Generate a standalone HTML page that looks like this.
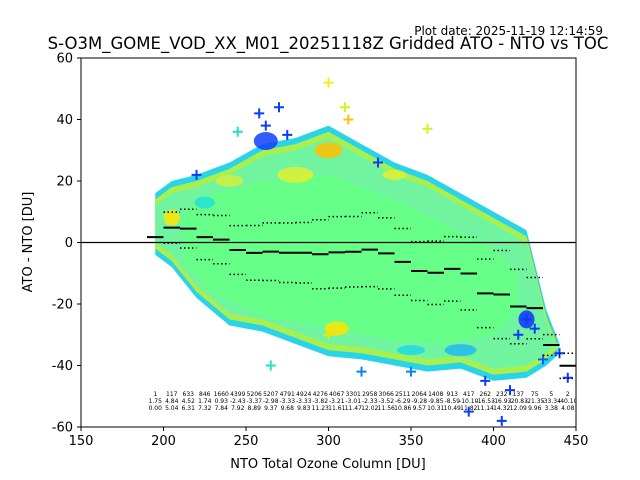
<!DOCTYPE html>
<html><head><meta charset="utf-8"><style>
body{margin:0;background:#fff;}
svg{display:block;font-family:"DejaVu Sans","Liberation Sans",sans-serif;}
</style></head><body>
<svg id="chart" width="640" height="480" viewBox="0 0 640 480" xmlns="http://www.w3.org/2000/svg">
<rect width="640" height="480" fill="#fff"/>
<text x="603" y="35" font-size="12" text-anchor="end">Plot date: 2025-11-19 12:14:59</text>
<text x="328" y="49" font-size="16.5" text-anchor="middle">S-O3M_GOME_VOD_XX_M01_20251118Z Gridded ATO - NTO vs TOC</text>
<defs><clipPath id="pc"><rect x="81" y="58" width="495" height="369"/></clipPath></defs>
<g id="plot" clip-path="url(#pc)"></g>
<g id="axes"></g>
<text x="328" y="468" font-size="13" text-anchor="middle">NTO Total Ozone Column [DU]</text>
<text transform="translate(32,242) rotate(-90)" font-size="13" text-anchor="middle">ATO - NTO [DU]</text>
</svg>
<script>
const binStarts=[190,200,210,220,230,240,250,260,270,280,290,300,310,320,330,340,350,360,370,380,390,400,410,420,430,440];
const counts=["1","117","633","846","1660","4399","5206","5207","4791","4924","4276","4067","3301","2958","3066","2511","2064","1408","913","417","262","232","137","75","5","2"];
const medians=[1.75,4.84,4.52,1.74,0.93,-2.43,-3.37,-2.98,-3.33,-3.33,-3.82,-3.21,-3.01,-2.33,-3.52,-6.29,-9.28,-9.85,-8.59,-10.10,-16.53,-16.93,-20.83,-21.35,-33.34,-40.10];
const stds=[0.00,5.04,6.31,7.32,7.84,7.92,8.89,9.37,9.68,9.83,11.23,11.61,11.47,12.02,11.56,10.86,9.57,10.31,10.49,11.82,11.14,14.32,12.09,9.96,3.38,4.08];
const xTicks=[150,200,250,300,350,400,450];
const yTicks=[-60,-40,-20,0,20,40,60];
const envX=[195,205,220,240,260,280,300,320,340,360,380,400,420,432,440];
const envUp=[16,20,22,26,32,34,38,32,26,22,16,10,4,-22,-33];
const envLo=[-4,-8,-18,-27,-29,-33,-37,-38,-40,-42,-41,-45,-44,-40,-36];
const coreX=[212,230,260,300,340,370,400,415];
const coreUp=[10,16,20,22,14,6,-2,-10];
const coreLo=[-6,-17,-24,-28,-32,-33,-30,-22];
const outX=[258,262,270,275,300,310,312,330,360,395,410,415,420,425,430,440,445,220,245,300,385,405,350,265,320];
const outY=[42,38,44,35,52,44,40,26,37,-45,-48,-30,-25,-28,-38,-36,-44,22,36,-30,-55,-58,-42,-40,-42];
const outC=["#0a3cff","#0a3cff","#0a3cff","#0a3cff","#f0f020","#d8f020","#ffc000","#0a3cff","#d8f020","#0a3cff","#0a3cff","#0a3cff","#0a3cff","#0a3cff","#0a60ff","#0a3cff","#0a3cff","#0a3cff","#22e0d0","#ffe000","#0a3cff","#0a3cff","#0a80ff","#22e0d0","#0a80ff"];
const NS="http://www.w3.org/2000/svg";
const X=v=>81+(v-150)*495/300, Y=v=>242.5-v*369/120;
const plot=document.getElementById('plot'), axes=document.getElementById('axes');
function mk(tag,attrs,parent){const e=document.createElementNS(NS,tag);for(const k in attrs)e.setAttribute(k,attrs[k]);parent.appendChild(e);return e;}
function poly(xs,up,lo,fill,name,dy){
  let p=xs.map((x,i)=>X(x)+','+Y(up[i]+dy)).concat(xs.map((x,i)=>X(x)+','+Y(lo[i]-dy)).reverse());
  const e=mk('polygon',{points:p.join(' '),fill:fill},plot);
  
  
}
poly(envX,envUp,envLo,"#2ad4e8","cloud-outer",0);
poly(envX,envUp,envLo,"#a8f050","cloud-mid",-2);
poly(envX,envUp,envLo,"#70f4a0","cloud-inner",-4);
poly(coreX,coreUp,coreLo,"#66ff88","cloud-core",0);
const patches=[[262,33,"#1040ff",12,9],[300,30,"#ffc000",14,8],[305,-28,"#ffe400",12,7],[420,-25,"#1030ff",8,9],[205,8,"#ffe400",8,8],[225,13,"#22e0d8",10,6],[380,-35,"#22b8f0",16,6],[350,-35,"#22d8e0",14,5],[280,22,"#e0f030",18,8],[240,20,"#d0f040",14,6],[340,22,"#e0f030",12,5]];
patches.forEach((q,i)=>{const e=mk('ellipse',{cx:X(q[0]),cy:Y(q[1]),rx:q[3],ry:q[4],fill:q[2],opacity:0.85},plot);
 
 });
outX.forEach((x,i)=>{const cx=X(x),cy=Y(outY[i]);const e=mk('path',{d:`M${cx-5},${cy}H${cx+5}M${cx},${cy-5}V${cy+5}`,stroke:outC[i],'stroke-width':2},plot);
 
 });
const z=mk('line',{x1:81,x2:576,y1:Y(0),y2:Y(0),stroke:'#000','stroke-width':1.3},plot);


binStarts.forEach((b,i)=>{
  const x1=X(b),x2=X(b+10);
  const m=mk('line',{x1:x1,x2:x2,y1:Y(medians[i]),y2:Y(medians[i]),stroke:'#000','stroke-width':2},plot);
  
  
  [medians[i]+stds[i],medians[i]-stds[i]].forEach(v=>{
    const d=mk('line',{x1:x1,x2:x2,y1:Y(v),y2:Y(v),stroke:'#000','stroke-width':1.5,'stroke-dasharray':'1.5,2.5'},plot);
    
    
  });
  const cx=(x1+x2)/2;
  [[counts[i],396],[medians[i].toFixed(2),403],[stds[i].toFixed(2),410]].forEach(t=>{
    const e=mk('text',{x:cx,y:t[1],'font-size':6,'text-anchor':'middle'},plot);e.textContent=t[0];
    
    
  });
});
const fr=mk('rect',{x:81,y:58,width:495,height:369,fill:'none',stroke:'#000','stroke-width':1},axes);


xTicks.forEach(v=>{mk('line',{x1:X(v),x2:X(v),y1:427,y2:431,stroke:'#000'},axes);
  const t=mk('text',{x:X(v),y:445,'font-size':13,'text-anchor':'middle'},axes);t.textContent=v;
  
  });
yTicks.forEach(v=>{mk('line',{x1:77,x2:81,y1:Y(v),y2:Y(v),stroke:'#000'},axes);
  const t=mk('text',{x:73,y:Y(v)+4.5,'font-size':13,'text-anchor':'end'},axes);t.textContent=v;
  
  });
</script>
</body></html>
